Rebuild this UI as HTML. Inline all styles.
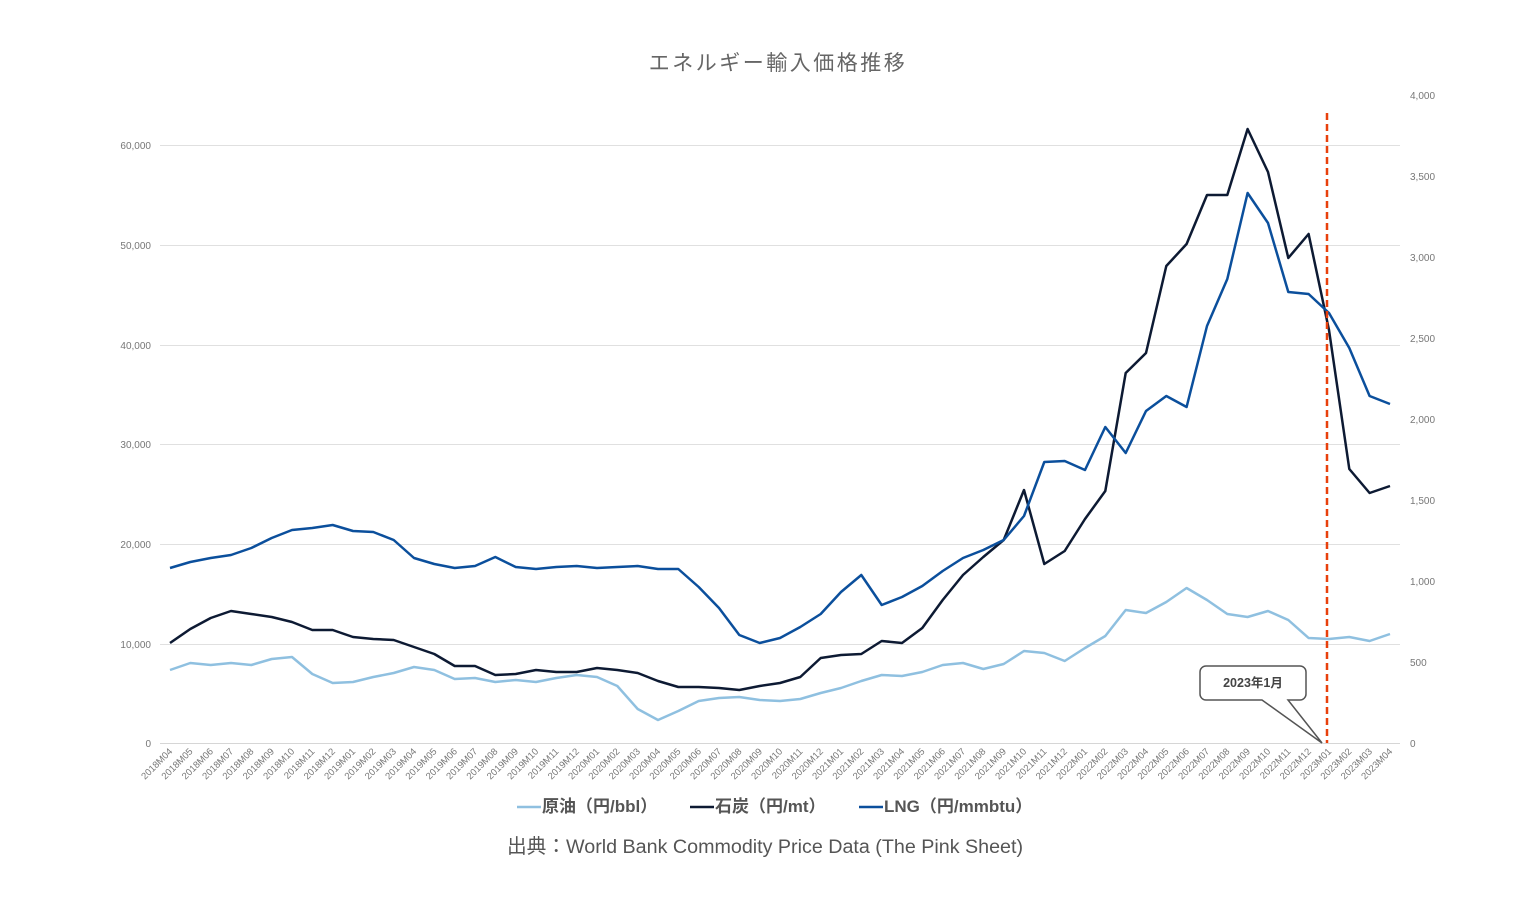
<!DOCTYPE html>
<html><head><meta charset="utf-8"><style>
body{margin:0;background:#fff;}
svg{display:block;font-family:"Liberation Sans","Noto Sans CJK JP",sans-serif;}
.ax{font-size:10px;fill:#777}
.xl{font-size:9.5px;fill:#777}
</style></head><body>
<svg id="s" width="1536" height="903" viewBox="0 0 1536 903">
<text x="778" y="70" text-anchor="middle" font-size="21" letter-spacing="2.5" fill="#666">エネルギー輸入価格推移</text>
<g stroke="#e0e0e0" stroke-width="1">
<line x1="160" x2="1400" y1="145.5" y2="145.5"/><line x1="160" x2="1400" y1="245.5" y2="245.5"/>
<line x1="160" x2="1400" y1="345.5" y2="345.5"/><line x1="160" x2="1400" y1="444.5" y2="444.5"/>
<line x1="160" x2="1400" y1="544.5" y2="544.5"/><line x1="160" x2="1400" y1="644.5" y2="644.5"/>
<line x1="160" x2="1400" y1="743.5" y2="743.5" stroke="#d6d6d6"/>
</g>
<g class="ax" text-anchor="end">
<text x="151" y="149">60,000</text><text x="151" y="249">50,000</text><text x="151" y="349">40,000</text>
<text x="151" y="448">30,000</text><text x="151" y="548">20,000</text><text x="151" y="648">10,000</text><text x="151" y="747">0</text>
</g>
<g class="ax" text-anchor="start">
<text x="1410" y="99">4,000</text><text x="1410" y="180">3,500</text><text x="1410" y="261">3,000</text>
<text x="1410" y="342">2,500</text><text x="1410" y="423">2,000</text><text x="1410" y="504">1,500</text>
<text x="1410" y="585">1,000</text><text x="1410" y="666">500</text><text x="1410" y="747">0</text>
</g>
<polyline id="oil" fill="none" stroke="#8fc0e0" stroke-width="2.5" stroke-linejoin="round"/>
<polyline id="coal" fill="none" stroke="#0d1a33" stroke-width="2.5" stroke-linejoin="round"/>
<polyline id="lng" fill="none" stroke="#0b4f9c" stroke-width="2.5" stroke-linejoin="round"/>
<line x1="1327" y1="113" x2="1327" y2="743" stroke="#e8400c" stroke-width="2.5" stroke-dasharray="7,4"/>
<path d="M1206,666 H1300 a6,6 0 0 1 6,6 V694 a6,6 0 0 1 -6,6 H1288 L1322,743 L1262,700 H1206 a6,6 0 0 1 -6,-6 V672 a6,6 0 0 1 6,-6 Z" fill="#fff" stroke="#555" stroke-width="1.5"/>
<text x="1253" y="687" text-anchor="middle" font-size="12.5" font-weight="bold" fill="#444">2023年1月</text>
<g font-size="17" font-weight="bold" fill="#555">
<line x1="517" x2="541" y1="807" y2="807" stroke="#8fc0e0" stroke-width="2.5"/>
<text x="542" y="812">原油（円/bbl）</text>
<line x1="690" x2="714" y1="807" y2="807" stroke="#0d1a33" stroke-width="2.5"/>
<text x="715" y="812">石炭（円/mt）</text>
<line x1="859" x2="883" y1="807" y2="807" stroke="#0b4f9c" stroke-width="2.5"/>
<text x="884" y="812">LNG（円/mmbtu）</text>
</g>
<text x="765" y="853" text-anchor="middle" font-size="19.7" fill="#555">出典：World Bank Commodity Price Data (The Pink Sheet)</text>
<g class="xl" text-anchor="end">
<text transform="translate(173,752) rotate(-45)">2018M04</text>
<text transform="translate(193.3,752) rotate(-45)">2018M05</text>
<text transform="translate(213.7,752) rotate(-45)">2018M06</text>
<text transform="translate(234,752) rotate(-45)">2018M07</text>
<text transform="translate(254.3,752) rotate(-45)">2018M08</text>
<text transform="translate(274.7,752) rotate(-45)">2018M09</text>
<text transform="translate(295,752) rotate(-45)">2018M10</text>
<text transform="translate(315.3,752) rotate(-45)">2018M11</text>
<text transform="translate(335.7,752) rotate(-45)">2018M12</text>
<text transform="translate(356,752) rotate(-45)">2019M01</text>
<text transform="translate(376.3,752) rotate(-45)">2019M02</text>
<text transform="translate(396.7,752) rotate(-45)">2019M03</text>
<text transform="translate(417,752) rotate(-45)">2019M04</text>
<text transform="translate(437.3,752) rotate(-45)">2019M05</text>
<text transform="translate(457.7,752) rotate(-45)">2019M06</text>
<text transform="translate(478,752) rotate(-45)">2019M07</text>
<text transform="translate(498.3,752) rotate(-45)">2019M08</text>
<text transform="translate(518.7,752) rotate(-45)">2019M09</text>
<text transform="translate(539,752) rotate(-45)">2019M10</text>
<text transform="translate(559.3,752) rotate(-45)">2019M11</text>
<text transform="translate(579.7,752) rotate(-45)">2019M12</text>
<text transform="translate(600,752) rotate(-45)">2020M01</text>
<text transform="translate(620.3,752) rotate(-45)">2020M02</text>
<text transform="translate(640.7,752) rotate(-45)">2020M03</text>
<text transform="translate(661,752) rotate(-45)">2020M04</text>
<text transform="translate(681.3,752) rotate(-45)">2020M05</text>
<text transform="translate(701.7,752) rotate(-45)">2020M06</text>
<text transform="translate(722,752) rotate(-45)">2020M07</text>
<text transform="translate(742.3,752) rotate(-45)">2020M08</text>
<text transform="translate(762.7,752) rotate(-45)">2020M09</text>
<text transform="translate(783,752) rotate(-45)">2020M10</text>
<text transform="translate(803.3,752) rotate(-45)">2020M11</text>
<text transform="translate(823.7,752) rotate(-45)">2020M12</text>
<text transform="translate(844,752) rotate(-45)">2021M01</text>
<text transform="translate(864.3,752) rotate(-45)">2021M02</text>
<text transform="translate(884.7,752) rotate(-45)">2021M03</text>
<text transform="translate(905,752) rotate(-45)">2021M04</text>
<text transform="translate(925.3,752) rotate(-45)">2021M05</text>
<text transform="translate(945.7,752) rotate(-45)">2021M06</text>
<text transform="translate(966,752) rotate(-45)">2021M07</text>
<text transform="translate(986.3,752) rotate(-45)">2021M08</text>
<text transform="translate(1006.7,752) rotate(-45)">2021M09</text>
<text transform="translate(1027,752) rotate(-45)">2021M10</text>
<text transform="translate(1047.3,752) rotate(-45)">2021M11</text>
<text transform="translate(1067.7,752) rotate(-45)">2021M12</text>
<text transform="translate(1088,752) rotate(-45)">2022M01</text>
<text transform="translate(1108.3,752) rotate(-45)">2022M02</text>
<text transform="translate(1128.7,752) rotate(-45)">2022M03</text>
<text transform="translate(1149,752) rotate(-45)">2022M04</text>
<text transform="translate(1169.3,752) rotate(-45)">2022M05</text>
<text transform="translate(1189.7,752) rotate(-45)">2022M06</text>
<text transform="translate(1210,752) rotate(-45)">2022M07</text>
<text transform="translate(1230.3,752) rotate(-45)">2022M08</text>
<text transform="translate(1250.7,752) rotate(-45)">2022M09</text>
<text transform="translate(1271,752) rotate(-45)">2022M10</text>
<text transform="translate(1291.3,752) rotate(-45)">2022M11</text>
<text transform="translate(1311.7,752) rotate(-45)">2022M12</text>
<text transform="translate(1332,752) rotate(-45)">2023M01</text>
<text transform="translate(1352.3,752) rotate(-45)">2023M02</text>
<text transform="translate(1372.7,752) rotate(-45)">2023M03</text>
<text transform="translate(1393,752) rotate(-45)">2023M04</text>
</g>
</svg>
<script>
var oil=[670,663,665,663,665,659,657,674,683,682,677,673,667,670,679,678,682,680,682,678,675,677,686,709,720,711,701,698,697,700,701,699,693,688,681,675,676,672,665,663,669,664,651,653,661,648,636,610,613,602,588,600,614,617,611,620,638,639,637,641,634];
var coal=[643,629,618,611,614,617,622,630,630,637,639,640,647,654,666,666,675,674,670,672,672,668,670,673,681,687,687,688,690,686,683,677,658,655,654,641,643,628,600,575,557,540,490,564,551,519,491,373,353,266,244,195,195,129,172,258,234,330,469,493,486];
var lng=[568,562,558,555,548,538,530,528,525,531,532,540,558,564,568,566,557,567,569,567,566,568,567,566,569,569,587,608,635,643,638,627,614,592,575,605,597,586,571,558,550,540,516,462,461,470,427,453,411,396,407,326,279,193,223,292,294,313,348,396,404];
function pts(a){return a.map(function(y,i){return (170+i*20.333).toFixed(1)+","+y}).join(" ");}
document.getElementById("oil").setAttribute("points",pts(oil));
document.getElementById("coal").setAttribute("points",pts(coal));
document.getElementById("lng").setAttribute("points",pts(lng));
</script>
</body></html>
